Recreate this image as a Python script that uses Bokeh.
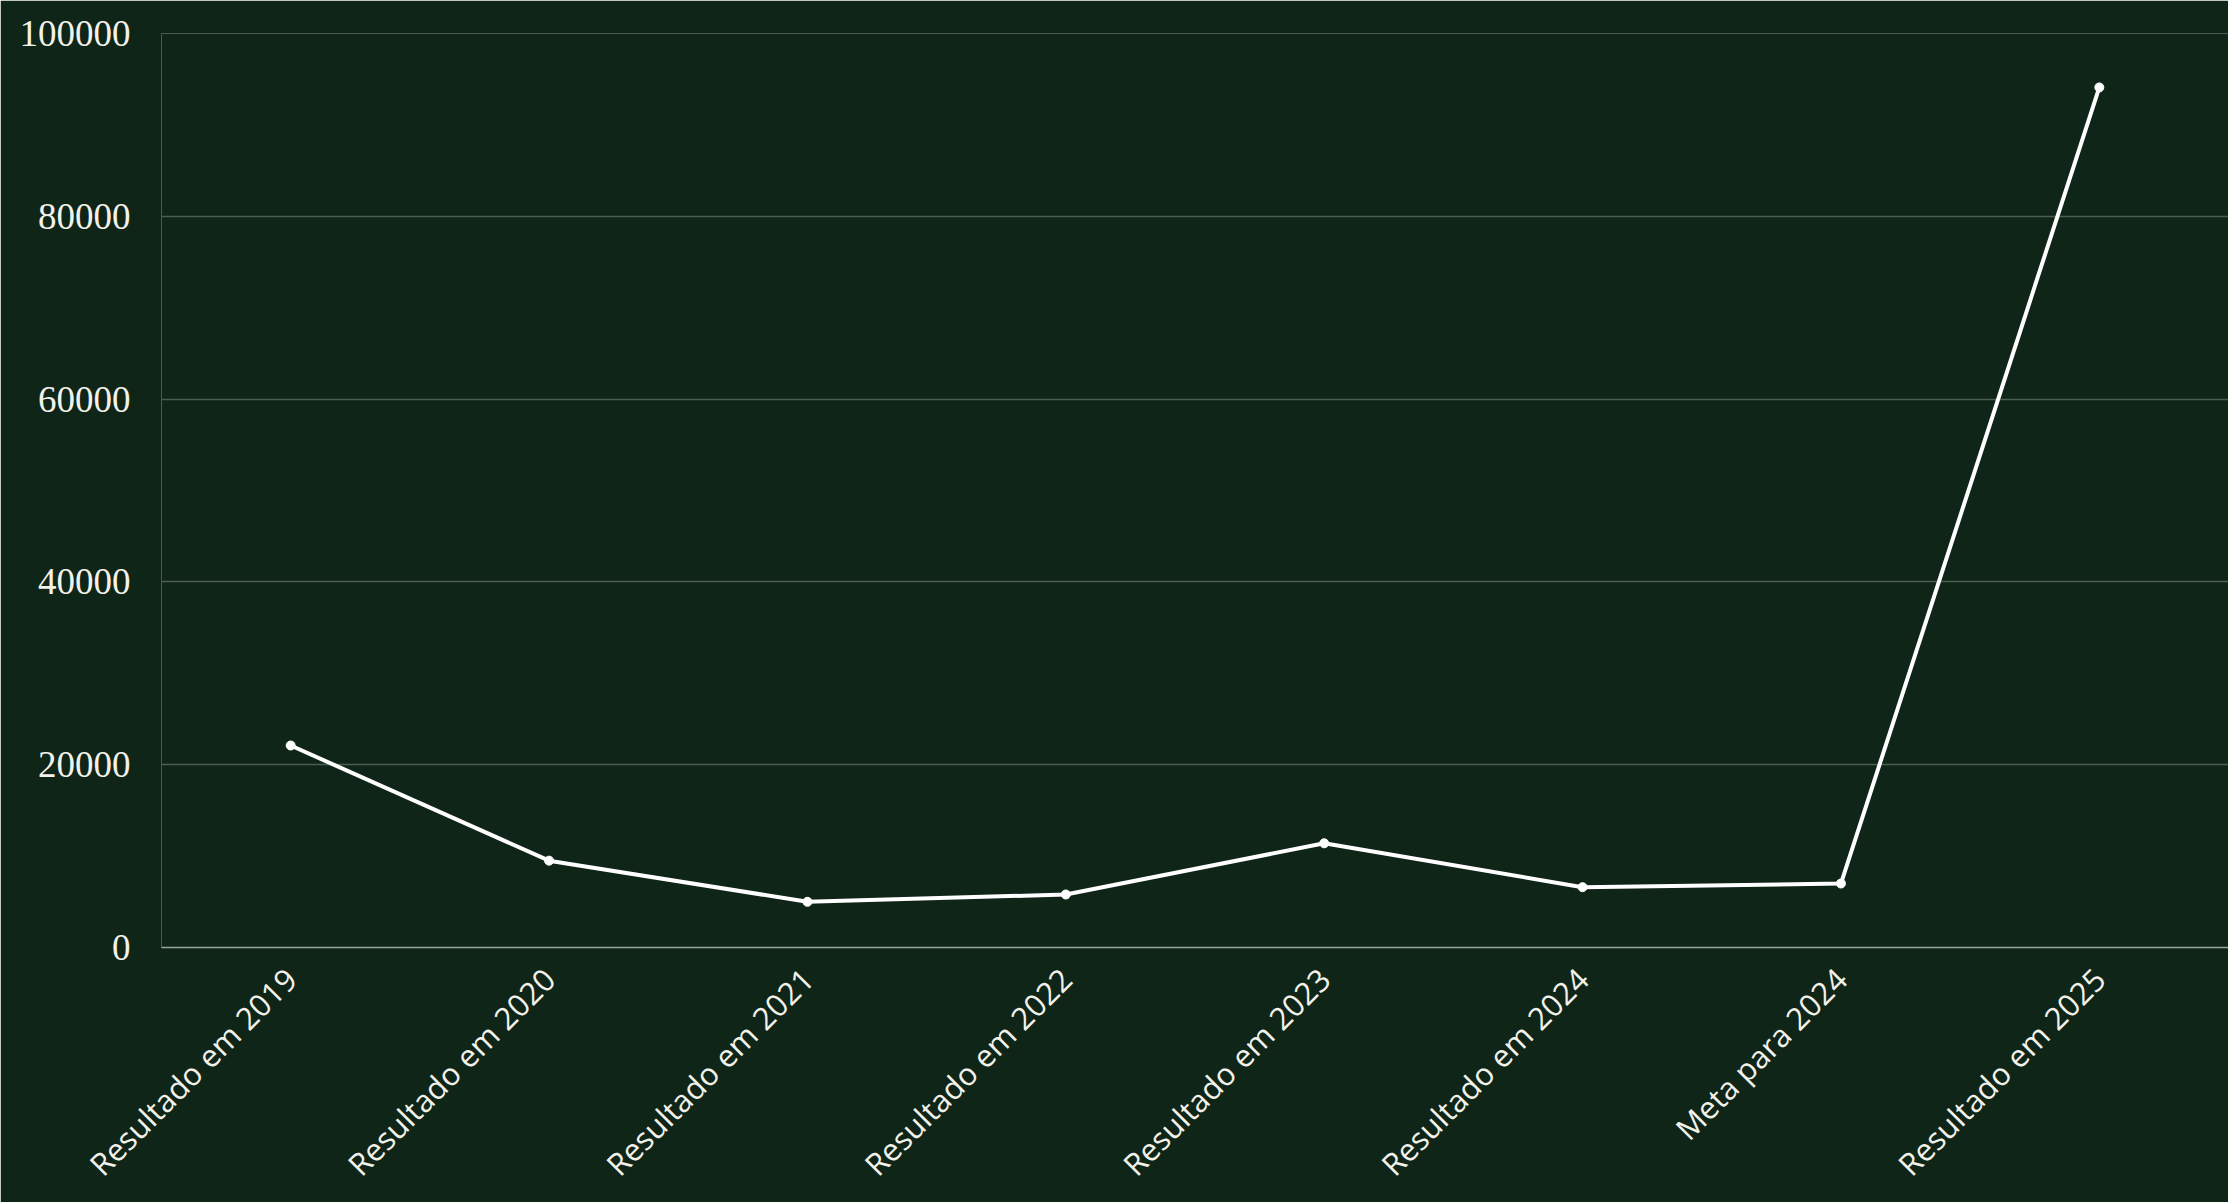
import math
from bokeh.plotting import figure
from bokeh.models import FactorRange, Range1d, FixedTicker, NumeralTickFormatter
from bokeh.embed import file_html
from bokeh.resources import INLINE

categories = ["Resultado em 2019", "Resultado em 2020", "Resultado em 2021",
              "Resultado em 2022", "Resultado em 2023", "Resultado em 2024",
              "Meta para 2024", "Resultado em 2025"]
values = [22100, 9500, 5000, 5800, 11400, 6600, 7000, 94100]
y_ticks = [0, 20000, 40000, 60000, 80000, 100000]

BG = "#0f2518"
TXT = "#f3f2ea"

p = figure(width=2228, height=1202, output_backend="svg", toolbar_location=None,
           x_range=FactorRange(*categories), y_range=Range1d(0, 100000),
           background_fill_color=BG, border_fill_color=BG,
           min_border_left=161, min_border_right=0, min_border_top=33,
           min_border_bottom=254)
p.outline_line_color = None

p.line(categories, values, line_color="#ffffff", line_width=4)
p.scatter(categories, values, size=9, fill_color="#ffffff", line_color="#ffffff")

p.xgrid.grid_line_color = None
p.ygrid.grid_line_color = "#4b5f4f"
p.ygrid.grid_line_width = 1.5

p.yaxis.ticker = FixedTicker(ticks=y_ticks)
p.yaxis.formatter = NumeralTickFormatter(format="0")
p.yaxis.axis_line_color = None
p.yaxis.major_tick_line_color = None
p.yaxis.minor_tick_line_color = None
p.yaxis.major_label_standoff = 25
p.yaxis.major_label_text_font = "Liberation Serif"
p.yaxis.major_label_text_font_size = "37px"
p.yaxis.major_label_text_color = TXT

p.xaxis.axis_line_color = "#9aa79b"
p.xaxis.axis_line_width = 1.5
p.xaxis.major_tick_line_color = None
p.xaxis.minor_tick_line_color = None
p.xaxis.major_label_orientation = math.pi / 4
p.xaxis.major_label_standoff = 20
p.xaxis.major_label_text_font = "Open Sans"
p.xaxis.major_label_text_font_size = "31px"
p.xaxis.major_label_text_color = TXT

open("out.html", "w").write(file_html(p, INLINE))
